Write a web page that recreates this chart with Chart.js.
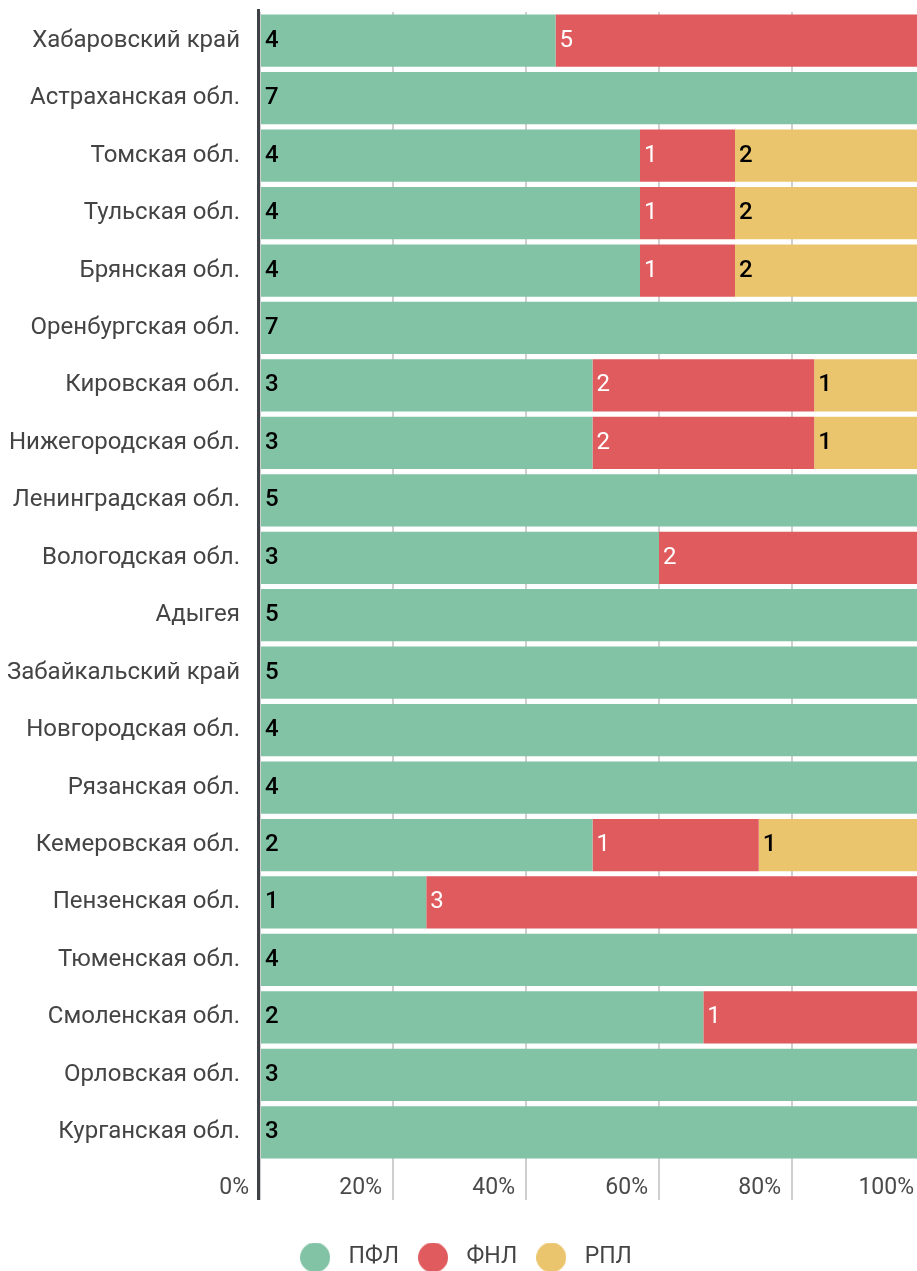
<!DOCTYPE html>
<html>
<head>
<meta charset="utf-8">
<script src="https://cdn.jsdelivr.net/npm/chart.js@4"></script>
<style>
  html, body { margin: 0; padding: 0; background: #fff; overflow: hidden; }
  #wrap { position: relative; width: 925px; height: 1279px; }
</style>
</head>
<body>
<div id="wrap"><canvas id="chart"></canvas></div>
<script>
// Regions (top to bottom)
const regions = [
  'Хабаровский край', 'Астраханская обл.', 'Томская обл.', 'Тульская обл.',
  'Брянская обл.', 'Оренбургская обл.', 'Кировская обл.', 'Нижегородская обл.',
  'Ленинградская обл.', 'Вологодская обл.', 'Адыгея', 'Забайкальский край',
  'Новгородская обл.', 'Рязанская обл.', 'Кемеровская обл.', 'Пензенская обл.',
  'Тюменская обл.', 'Смоленская обл.', 'Орловская обл.', 'Курганская обл.'
];

// Counts per league
const pfl = [4, 7, 4, 4, 4, 7, 3, 3, 5, 3, 5, 5, 4, 4, 2, 1, 4, 2, 3, 3];
const fnl = [5, 0, 1, 1, 1, 0, 2, 2, 0, 2, 0, 0, 0, 0, 1, 3, 0, 1, 0, 0];
const rpl = [0, 0, 2, 2, 2, 0, 1, 1, 0, 0, 0, 0, 0, 0, 1, 0, 0, 0, 0, 0];

const xTickLabels = ['0%', '20%', '40%', '60%', '80%', '100%'];

const totals = regions.map((_, i) => pfl[i] + fnl[i] + rpl[i]);
const toPct = arr => arr.map((v, i) => v / totals[i] * 100);

const FONT = 'Roboto, "Noto Sans", sans-serif';

// round legend marker as a small canvas
function dot(color) {
  const c = document.createElement('canvas');
  c.width = 30; c.height = 30;
  const g = c.getContext('2d');
  g.fillStyle = color;
  g.beginPath();
  g.arc(15, 15, 15, 0, Math.PI * 2);
  g.fill();
  return c;
}

// Labels with counts at the start of each segment
const segmentLabels = {
  id: 'segmentLabels',
  afterDatasetsDraw(chart) {
    const ctx = chart.ctx;
    ctx.save();
    ctx.textAlign = 'left';
    ctx.textBaseline = 'middle';
    chart.data.datasets.forEach((ds, di) => {
      ctx.font = ds.labelWeight + ' 24px ' + FONT;
      ctx.fillStyle = ds.labelColor;
      chart.getDatasetMeta(di).data.forEach((bar, i) => {
        const count = ds.counts[i];
        if (!count) return;
        ctx.fillText(String(count), bar.base + 4, bar.y);
      });
    });
    ctx.restore();
  }
};

// Dark zero line, drawn above the bars
const zeroLine = {
  id: 'zeroLine',
  afterDatasetsDraw(chart) {
    const {ctx, chartArea} = chart;
    const x = chart.scales.x.getPixelForValue(0);
    ctx.save();
    ctx.strokeStyle = '#3e4145';
    ctx.lineWidth = 3;
    ctx.beginPath();
    ctx.moveTo(x - 1.5, chartArea.top - 3);
    ctx.lineTo(x - 1.5, chartArea.bottom + 39);
    ctx.stroke();
    ctx.restore();
  }
};

new Chart(document.getElementById('chart'), {
  type: 'bar',
  data: {
    labels: regions,
    datasets: [
      { label: 'ПФЛ', data: toPct(pfl), counts: pfl, backgroundColor: '#82c3a6', labelColor: '#000', labelWeight: 500 },
      { label: 'ФНЛ', data: toPct(fnl), counts: fnl, backgroundColor: '#e05b5e', labelColor: '#fff', labelWeight: 400 },
      { label: 'РПЛ', data: toPct(rpl), counts: rpl, backgroundColor: '#ebc56d', labelColor: '#000', labelWeight: 500 }
    ]
  },
  options: {
    indexAxis: 'y',
    responsive: true,
    maintainAspectRatio: false,
    animation: false,
    layout: { padding: { top: 12, right: 0, left: 0, bottom: 0 } },
    datasets: {
      bar: { barPercentage: 0.91, categoryPercentage: 1, borderWidth: 0 }
    },
    scales: {
      x: {
        stacked: true,
        min: 0,
        max: 100,
        afterFit(scale) { scale.height = 73; },
        grid: { color: '#cfcfcf', lineWidth: 2, tickLength: 39 },
        border: { display: false },
        ticks: {
          stepSize: 20,
          autoSkip: false,
          maxRotation: 0,
          align: 'end',
          labelOffset: -11,
          padding: -26,
          color: '#4a4a4a',
          font: { family: FONT, size: 23 },
          callback: (v, i) => xTickLabels[i]
        }
      },
      y: {
        stacked: true,
        afterFit(scale) {
          scale.width = 260;
          scale.paddingTop = 0;
          scale.paddingBottom = 0;
        },
        grid: { display: false, drawTicks: false },
        border: { display: false },
        ticks: {
          padding: 20,
          color: '#444',
          font: { family: FONT, size: 24 }
        }
      }
    },
    plugins: {
      legend: {
        position: 'bottom',
        labels: {
          usePointStyle: true,
          pointStyleWidth: 44,
          boxHeight: 22,
          padding: 12,
          color: '#444',
          font: { family: FONT, size: 23 },
          generateLabels(chart) {
            const items = Chart.defaults.plugins.legend.labels.generateLabels(chart);
            items.forEach(it => { it.pointStyle = dot(it.fillStyle); });
            return items;
          }
        }
      },
      tooltip: { enabled: false }
    }
  },
  plugins: [segmentLabels, zeroLine]
});
</script>
</body>
</html>
